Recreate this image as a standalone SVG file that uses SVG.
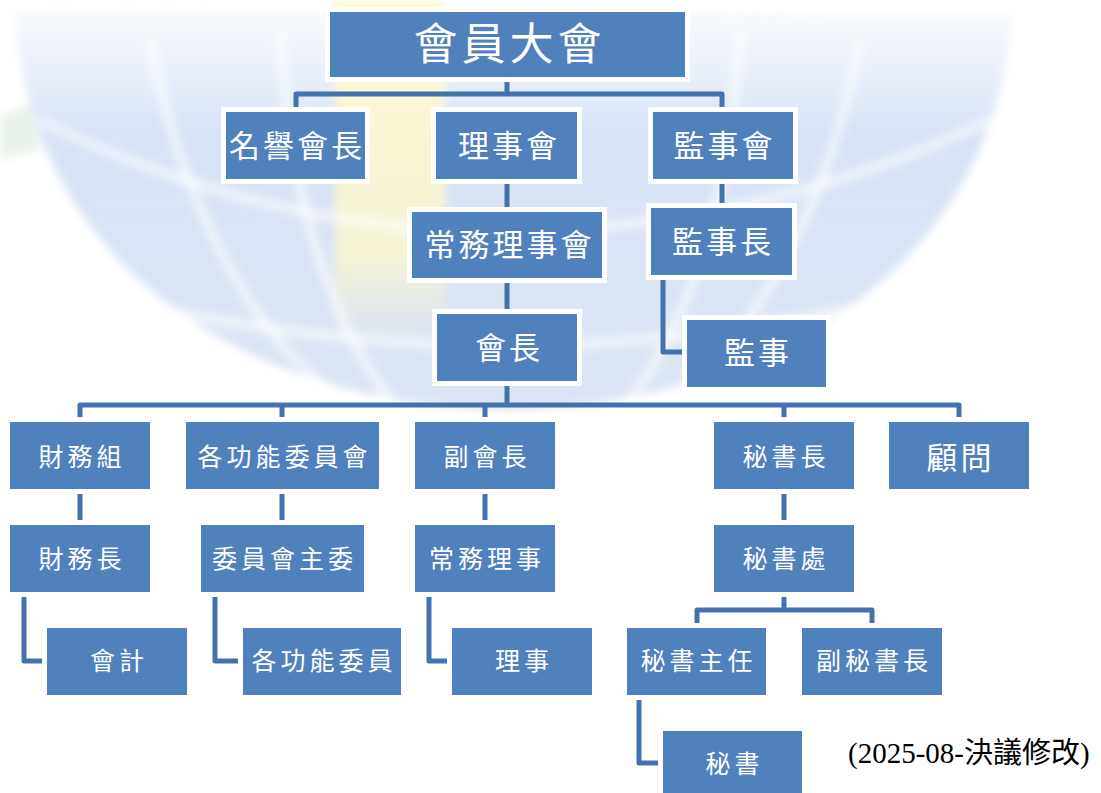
<svg xmlns="http://www.w3.org/2000/svg" width="1101" height="793" viewBox="0 0 1101 793">
<defs>
<style>
.box{fill:#4F81BD;stroke:#FFFFFF;stroke-width:5}
.lbl{fill:#FFFFFF;font-family:"Noto Sans CJK TC","Noto Sans CJK SC",sans-serif;text-anchor:middle;dominant-baseline:central}
.t1{font-size:44px;letter-spacing:4px}
.t2{font-size:31px;letter-spacing:3px}
.t3{font-size:25px;letter-spacing:4px}
.con{fill:none;stroke:#4472AF;stroke-width:5;stroke-linejoin:round;stroke-linecap:butt}
.grid{fill:none;stroke:#FFFFFF;stroke-opacity:0.6;stroke-width:10}
</style>
<linearGradient id="bowlG" x1="0" y1="0" x2="0" y2="1">
<stop offset="0" stop-color="#E6EDF8" stop-opacity="0.35"/>
<stop offset="0.3" stop-color="#D3E0F5" stop-opacity="0.9"/>
<stop offset="1" stop-color="#D6E1F2" stop-opacity="0.85"/>
</linearGradient>
<linearGradient id="beamG" x1="0" y1="0" x2="0" y2="1">
<stop offset="0" stop-color="#FFF9CF" stop-opacity="0.95"/>
<stop offset="0.75" stop-color="#FFF8CC" stop-opacity="0.75"/>
<stop offset="1" stop-color="#FFF8CC" stop-opacity="0"/>
</linearGradient>
<filter id="soft" x="-5%" y="-10%" width="110%" height="120%">
<feGaussianBlur stdDeviation="5"/>
</filter>
</defs>
<rect width="1101" height="793" fill="#FFFFFF"/>
<g id="watermark" filter="url(#soft)">
<path d="M 15 10 C 25 250 230 405 505 410 C 780 405 995 260 1012 15 Z" fill="url(#bowlG)"/>
<rect x="335" y="0" width="110" height="340" fill="url(#beamG)"/>
<path class="grid" d="M 40 120 C 200 200 350 230 505 232 C 660 230 820 200 990 120"/>
<path class="grid" d="M 120 300 C 250 330 380 345 505 346 C 630 345 760 330 890 300"/>
<path class="grid" d="M 150 40 C 180 200 250 330 330 390"/>
<path class="grid" d="M 860 40 C 830 200 760 330 680 390"/>
<path class="grid" d="M 280 30 C 290 200 330 320 390 400"/>
<path class="grid" d="M 740 30 C 730 200 690 320 630 400"/>
<path d="M 0 115 L 30 105 L 40 150 L 0 160 Z" fill="#DCEBDA" opacity="0.6"/>
</g>
<g id="connectors">
<path class="con" d="M 296 112 V 94 H 722 V 112"/>
<path class="con" d="M 507 70 V 94"/>
<path class="con" d="M 507 179 V 212"/>
<path class="con" d="M 507 278 V 314"/>
<path class="con" d="M 722 179 V 208"/>
<path class="con" d="M 663 275 V 352 H 687"/>
<path class="con" d="M 507 381 V 405"/>
<path class="con" d="M 80 422 V 405 H 959 V 422"/>
<path class="con" d="M 282 405 V 422"/>
<path class="con" d="M 485 405 V 422"/>
<path class="con" d="M 784 405 V 422"/>
<path class="con" d="M 80 489 V 525"/>
<path class="con" d="M 282 489 V 525"/>
<path class="con" d="M 485 489 V 525"/>
<path class="con" d="M 784 489 V 525"/>
<path class="con" d="M 24 592 V 661 H 47"/>
<path class="con" d="M 215 592 V 661 H 243"/>
<path class="con" d="M 429 592 V 661 H 452"/>
<path class="con" d="M 784 592 V 610"/>
<path class="con" d="M 697 628 V 610 H 872 V 628"/>
<path class="con" d="M 639 695 V 763 H 663"/>
</g>
<g id="n-general-assembly"><rect class="box" x="327.5" y="9.5" width="360" height="70"/><text class="lbl t1" x="509.5" y="41">會員大會</text></g>
<g id="n-honorary"><rect class="box" x="223.5" y="109.5" width="144" height="72"/><text class="lbl t2" x="297" y="143">名譽會長</text></g>
<g id="n-board"><rect class="box" x="433.5" y="109.5" width="146" height="72"/><text class="lbl t2" x="509" y="143">理事會</text></g>
<g id="n-supervisors"><rect class="box" x="650.5" y="109.5" width="145" height="72"/><text class="lbl t2" x="724.5" y="143">監事會</text></g>
<g id="n-standing-board"><rect class="box" x="409.5" y="209.5" width="195" height="71"/><text class="lbl t2" x="509.5" y="242">常務理事會</text></g>
<g id="n-chief-supervisor"><rect class="box" x="648.5" y="205.5" width="146" height="72"/><text class="lbl t2" x="723" y="239">監事長</text></g>
<g id="n-president"><rect class="box" x="434.5" y="311.5" width="145" height="72"/><text class="lbl t2" x="509" y="345">會長</text></g>
<g id="n-supervisor"><rect class="box" x="684.5" y="317.5" width="144" height="72"/><text class="lbl t2" x="758" y="350">監事</text></g>
<g id="n-finance-group"><rect class="box" x="7.5" y="419.5" width="145" height="72"/><text class="lbl t3" x="82" y="455">財務組</text></g>
<g id="n-committees"><rect class="box" x="183.5" y="419.5" width="198" height="72"/><text class="lbl t3" x="284.5" y="455">各功能委員會</text></g>
<g id="n-vice-president"><rect class="box" x="412.5" y="419.5" width="145" height="72"/><text class="lbl t3" x="487" y="455">副會長</text></g>
<g id="n-secretary-general"><rect class="box" x="711.5" y="419.5" width="145" height="72"/><text class="lbl t3" x="786" y="455">秘書長</text></g>
<g id="n-advisor"><rect class="box" x="886.5" y="419.5" width="145" height="72"/><text class="lbl t2" x="960.5" y="455">顧問</text></g>
<g id="n-treasurer"><rect class="box" x="7.5" y="522.5" width="145" height="72"/><text class="lbl t3" x="82" y="557">財務長</text></g>
<g id="n-committee-chair"><rect class="box" x="198.5" y="522.5" width="168" height="72"/><text class="lbl t3" x="284.5" y="557">委員會主委</text></g>
<g id="n-standing-director"><rect class="box" x="412.5" y="522.5" width="145" height="72"/><text class="lbl t3" x="487" y="557">常務理事</text></g>
<g id="n-secretariat"><rect class="box" x="711.5" y="522.5" width="145" height="72"/><text class="lbl t3" x="786" y="557">秘書處</text></g>
<g id="n-accountant"><rect class="box" x="44.5" y="625.5" width="145" height="72"/><text class="lbl t3" x="119" y="659">會計</text></g>
<g id="n-committee-members"><rect class="box" x="240.5" y="625.5" width="163" height="72"/><text class="lbl t3" x="324" y="659">各功能委員</text></g>
<g id="n-director"><rect class="box" x="449.5" y="625.5" width="145" height="72"/><text class="lbl t3" x="524" y="659">理事</text></g>
<g id="n-secretariat-head"><rect class="box" x="624.5" y="625.5" width="144" height="72"/><text class="lbl t3" x="698.5" y="659">秘書主任</text></g>
<g id="n-deputy-sg"><rect class="box" x="799.5" y="625.5" width="145" height="72"/><text class="lbl t3" x="874" y="659">副秘書長</text></g>
<g id="n-secretary"><rect class="box" x="660.5" y="728.5" width="144" height="75"/><text class="lbl t3" x="734.5" y="762">秘書</text></g>
<text x="848" y="763" font-family="'Liberation Serif','Noto Sans CJK TC',serif" font-size="29" fill="#000000">(2025-08-決議修改)</text>
</svg>
